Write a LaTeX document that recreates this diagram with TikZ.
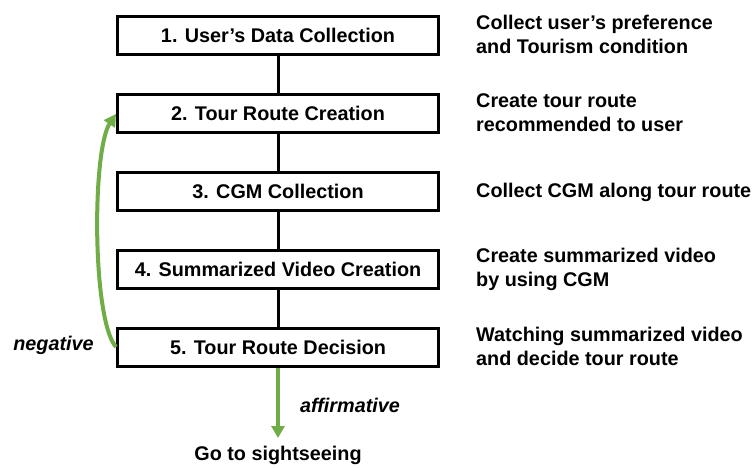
\documentclass[tikz,border=0pt]{standalone}
\usepackage{fontspec}
\setmainfont{Liberation Sans}
\usetikzlibrary{arrows.meta}
\definecolor{grn}{RGB}{112,173,71}
\begin{document}
\begin{tikzpicture}[x=1pt,y=1pt,
  stepbox/.style={draw=black,line width=3pt,minimum width=321pt,minimum height=38pt,inner sep=0pt,font=\fontsize{19.8}{22}\selectfont\bfseries},
  desc/.style={anchor=west,align=left,font=\fontsize{19.8}{24}\selectfont\bfseries,inner sep=0pt},
  lbl/.style={font=\fontsize{19.8}{22}\selectfont\bfseries\itshape,inner sep=0pt},
  link/.style={line width=3pt},
  garrow/.style={draw=grn,line width=4pt,-{Triangle[length=12pt,width=13pt]}}]
\useasboundingbox (0,0) rectangle (755,-467);
\node[stepbox] (b1) at (278,-35.5) {1. User's Data Collection};
\node[stepbox] (b2) at (278,-113.5) {2. Tour Route Creation};
\node[stepbox] (b3) at (278,-191) {3. CGM Collection};
\node[stepbox] (b4) at (278,-269) {4. Summarized Video Creation};
\node[stepbox] (b5) at (278,-347) {5. Tour Route Decision};
\draw[link] (b1) -- (b2);
\draw[link] (b2) -- (b3);
\draw[link] (b3) -- (b4);
\draw[link] (b4) -- (b5);
\node[desc] (d1) at (476,-34) {Collect user’s preference\\and Tourism condition};
\node[desc] (d2) at (476,-113) {Create tour route\\recommended to user};
\node[desc] (d3) at (476,-192) {Collect CGM along tour route};
\node[desc] (d4) at (476,-269) {Create summarized video\\by using CGM};
\node[desc] (d5) at (476,-346.5) {Watching summarized video\\and decide tour route};
\coordinate (nstart) at (116,-347);
\coordinate (nend) at (116,-114);
\draw[garrow] (nstart) .. controls (92,-320) and (92,-150) .. (nend);
\node[lbl] (neg) at (53.5,-345) {negative};
\node[font=\fontsize{19.8}{22}\selectfont\bfseries,inner sep=0pt] (go) at (278,-455) {Go to sightseeing};
\draw[garrow] (b5.south) -- (278,-438) coordinate (gtip);
\node[lbl] (aff) at (350,-405) {affirmative};
\end{tikzpicture}
\end{document}
